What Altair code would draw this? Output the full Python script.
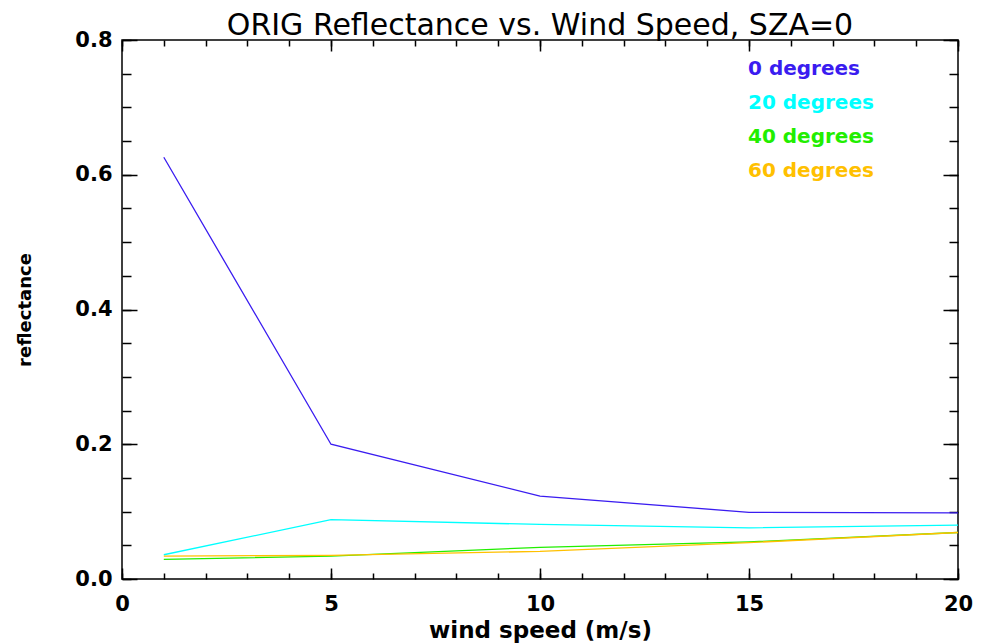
import altair as alt
import pandas as pd

# Wind speed (m/s) at which reflectance was computed
wind_speed = [1, 5, 10, 15, 20]

# Reflectance per viewing angle
series_names = ["0 degrees", "20 degrees", "40 degrees", "60 degrees"]
refl_0deg = [0.626, 0.200, 0.123, 0.099, 0.098]
refl_20deg = [0.036, 0.088, 0.081, 0.076, 0.080]
refl_40deg = [0.029, 0.034, 0.047, 0.055, 0.069]
refl_60deg = [0.034, 0.035, 0.041, 0.054, 0.069]
series_colors = ["#3a1cf0", "#00ffff", "#22ee00", "#ffc000"]

# Tick positions
x_major = [0, 5, 10, 15, 20]
x_minor = list(range(0, 21))
y_major = [0.0, 0.2, 0.4, 0.6, 0.8]
y_minor = [round(i * 0.05, 2) for i in range(17)]

rows = []
for name, vals in zip(series_names, [refl_0deg, refl_20deg, refl_40deg, refl_60deg]):
    for ws, v in zip(wind_speed, vals):
        rows.append({"wind": ws, "refl": v, "series": name})
df = pd.DataFrame(rows)

FONT = "DejaVu Sans"
x_scale = alt.Scale(domain=[0, 20], nice=False, zero=False)
y_scale = alt.Scale(domain=[0, 0.8], nice=False)
color_scale = alt.Scale(domain=series_names, range=series_colors)

base = alt.Chart(df)


def tick_axis(orient, values, size):
    return alt.Axis(
        orient=orient, values=values, labels=False, domain=False, grid=False,
        ticks=True, tickColor="black", tickWidth=1.5,
        tickSize=alt.ExprRef(expr=str(-size)), title=None,
    )


lines = base.mark_line(strokeWidth=1.3).encode(
    x=alt.X("wind:Q", scale=x_scale, axis=alt.Axis(
        orient="bottom", values=x_major, format="d", ticks=False, grid=False,
        domain=False, labelFont=FONT, labelFontSize=21, labelFontWeight="bold",
        labelColor="black", labelPadding=14, labelFlush=False,
        title="wind speed (m/s)", titleFont=FONT, titleFontSize=23,
        titleFontWeight="bold", titleColor="black", titlePadding=5,
    )),
    y=alt.Y("refl:Q", scale=y_scale, axis=alt.Axis(
        orient="left", values=y_major, format=".1f", ticks=False, grid=False,
        domain=False, labelFont=FONT, labelFontSize=21, labelFontWeight="bold",
        labelColor="black", labelPadding=10,
        title="reflectance", titleFont=FONT, titleFontSize=18,
        titleFontWeight="bold", titleColor="black", titlePadding=40,
    )),
    color=alt.Color("series:N", scale=color_scale, sort=series_names, legend=alt.Legend(
        orient="none", legendX=606, legendY=19, title=None, padding=0,
        symbolType="circle", symbolSize=0, symbolOpacity=0, symbolStrokeWidth=0,
        labelOffset=0, labelFont=FONT, labelFontSize=20, labelFontWeight="bold",
        labelColor=alt.ExprRef(expr="scale('color', datum.value)"),
        rowPadding=14,
    )),
)


def tick_layer(xo, xv, xs, yo, yv, ys):
    return base.mark_line(opacity=0).encode(
        x=alt.X("wind:Q", scale=x_scale, axis=tick_axis(xo, xv, xs)),
        y=alt.Y("refl:Q", scale=y_scale, axis=tick_axis(yo, yv, ys)),
        detail="series:N",
    )


chart = alt.layer(
    lines,
    tick_layer("bottom", x_major, 11, "left", y_major, 15),
    tick_layer("bottom", x_minor, 6, "left", y_minor, 9),
    tick_layer("top", x_major, 11, "right", y_major, 15),
    tick_layer("top", x_minor, 6, "right", y_minor, 9),
).resolve_axis(
    x="independent", y="independent"
).properties(
    width=836,
    height=539,
    title=alt.TitleParams(
        "ORIG Reflectance vs. Wind Speed, SZA=0", font=FONT, fontSize=30,
        fontWeight="normal", color="black", anchor="middle", offset=0, dy=12,
    ),
    autosize=alt.AutoSizeParams(type="none"),
    padding={"left": 122, "top": 40, "right": 23, "bottom": 64},
    background="white",
).configure_view(
    stroke="black", strokeWidth=1.5
)

chart.save("out.html", embed_options={"renderer": "svg", "actions": False})
